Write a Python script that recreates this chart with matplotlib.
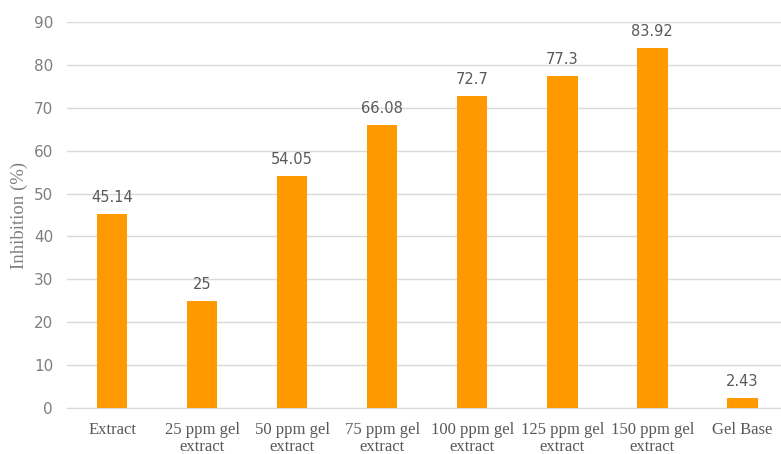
import matplotlib.pyplot as plt

categories = ['Extract', '25 ppm gel\nextract', '50 ppm gel\nextract', '75 ppm gel\nextract',
              '100 ppm gel\nextract', '125 ppm gel\nextract', '150 ppm gel\nextract', 'Gel Base']
inhibition = [45.14, 25, 54.05, 66.08, 72.7, 77.3, 83.92, 2.43]
value_labels = ['45.14', '25', '54.05', '66.08', '72.7', '77.3', '83.92', '2.43']

fig = plt.figure(figsize=(7.81, 4.54), dpi=100)
ax = fig.add_axes([0.0858, 0.1013, 0.9142, 0.8502])

x = range(len(categories))
bars = ax.bar(x, inhibition, width=0.34, color='#FF9900', zorder=3)

# Value labels above bars
for b, lab in zip(bars, value_labels):
    ax.annotate(lab, (b.get_x() + b.get_width() / 2, b.get_height()),
                xytext=(0, 6.5), textcoords='offset points', ha='center', va='bottom',
                fontsize=10.5, color='#595959', family='DejaVu Sans')

ax.set_xlim(-0.5, 7.43)
ax.set_ylim(0, 90)
ax.set_yticks(range(0, 91, 10))
ax.grid(axis='y', color='#D9D9D9', linewidth=1, zorder=0)

ax.set_xticks(list(x))
ax.set_xticklabels(categories, family='Liberation Serif', fontsize=12, color='#595959',
                   linespacing=1.1)
ax.tick_params(axis='y', labelsize=11, labelcolor='#7F7F7F', length=0, pad=10)
ax.tick_params(axis='x', length=0, pad=10)

for side in ['top', 'right', 'left']:
    ax.spines[side].set_visible(False)
ax.spines['bottom'].set_color('#D9D9D9')

ax.set_ylabel('Inhibition (%)', family='Liberation Serif', fontsize=13.5, color='#7F7F7F')
ax.yaxis.set_label_coords(-0.055, 0.5)

fig.savefig('out.png', dpi=100)
